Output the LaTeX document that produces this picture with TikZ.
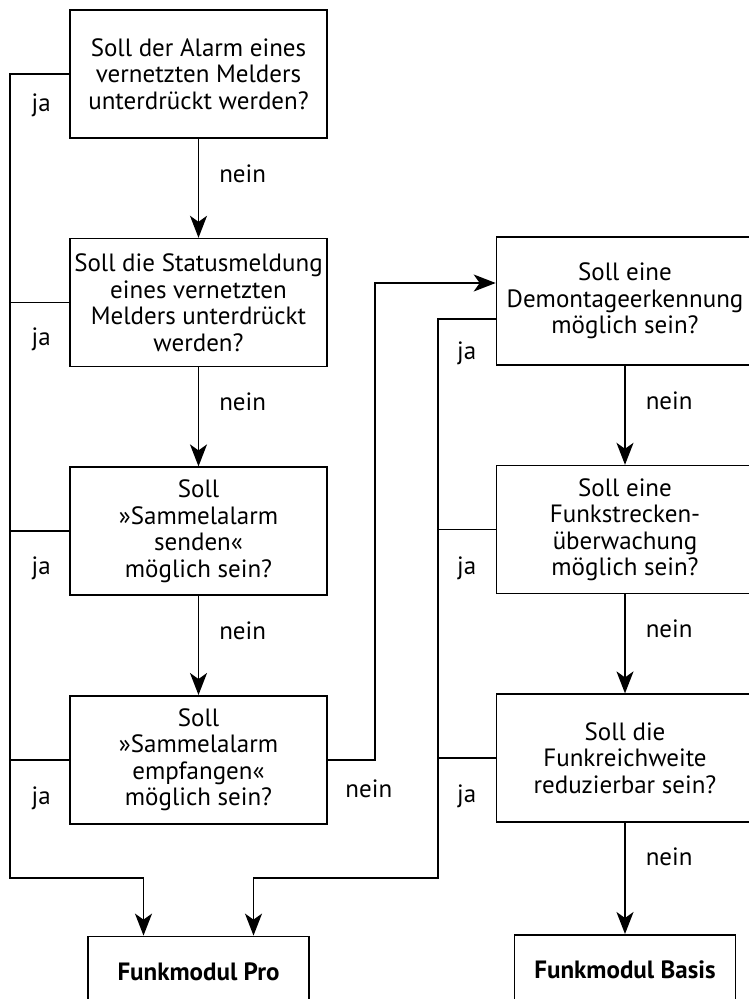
\documentclass[tikz,border=0pt]{standalone}
\usepackage{fontspec}
\setmainfont{PT Sans}
\usetikzlibrary{arrows.meta, positioning, calc}

\begin{document}
\begin{tikzpicture}[
    x=1pt, y=-1pt,
    node distance=99pt,
    frage/.style={draw, line width=1.6pt, minimum width=257pt, minimum height=128pt, inner sep=2pt, align=center, font=\fontsize{25}{26.5}\selectfont},
    ziel/.style={draw, line width=1.6pt, minimum width=221pt, minimum height=70pt, font=\fontsize{25}{26.5}\selectfont\bfseries},
    pfeil/.style={-{Stealth[length=22pt, width=17pt, inset=6pt]}, line width=1.6pt},
    linie/.style={line width=1.6pt},
    lbl/.style={font=\fontsize{25}{26.5}\selectfont, inner sep=0pt}
]
    \useasboundingbox (0,0) rectangle (749,999);

    % linke Spalte
    \node[frage] (alarm) at (198.5,74) {Soll der Alarm eines\\vernetzten Melders\\unterdrückt werden?};
    \node[frage, below=of alarm] (status) {Soll die Statusmeldung\\eines vernetzten\\Melders unterdrückt\\werden?};
    \node[frage, below=of status] (senden) {Soll\\»Sammelalarm\\senden«\\möglich sein?};
    \node[frage, below=of senden] (empfangen) {Soll\\»Sammelalarm\\empfangen«\\möglich sein?};
    \node[ziel, below=111pt of empfangen] (pro) {Funkmodul Pro};

    % rechte Spalte
    \node[frage] (demontage) at (625,301) {Soll eine\\Demontageerkennung\\möglich sein?};
    \node[frage, below=of demontage] (funkstrecke) {Soll eine\\Funkstrecken-\\überwachung\\möglich sein?};
    \node[frage, below=of funkstrecke] (reichweite) {Soll die\\Funkreichweite\\reduzierbar sein?};
    \node[ziel, below=111pt of reichweite] (basis) {Funkmodul Basis};

    % Hilfspunkte
    \coordinate (links) at (10,878);
    \coordinate (mitte) at (438,878);
    \coordinate (knick) at (375,283);

    % nein
    \draw[pfeil] (alarm) -- node[lbl, pos=0.35, right=20pt] (n1) {nein} (status);
    \draw[pfeil] (status) -- node[lbl, pos=0.35, right=20pt] (n2) {nein} (senden);
    \draw[pfeil] (senden) -- node[lbl, pos=0.35, right=20pt] (n3) {nein} (empfangen);
    \draw[pfeil] (demontage) -- node[lbl, pos=0.35, right=20pt] (n5) {nein} (funkstrecke);
    \draw[pfeil] (funkstrecke) -- node[lbl, pos=0.35, right=20pt] (n6) {nein} (reichweite);
    \draw[pfeil] (reichweite) -- node[lbl, pos=0.3, right=20pt] (n7) {nein} (basis);
    \draw[pfeil] (empfangen.east) -| (knick) -- ($(demontage.west)+(0,-18)$);
    \node[lbl] (n4) at ($(empfangen.east)+(41,29)$) {nein};

    % ja
    \draw[pfeil] (alarm.west) -| (links) -| ($(pro.north)+(-55,0)$);
    \draw[linie] (status.west) -- (status.west -| links);
    \draw[linie] (senden.west) -- (senden.west -| links);
    \draw[linie] (empfangen.west) -- (empfangen.west -| links);
    \draw[pfeil] ($(demontage.west)+(0,18)$) -| (mitte) -| ($(pro.north)+(55,0)$);
    \draw[linie] (funkstrecke.west) -- (funkstrecke.west -| mitte);
    \draw[linie] (reichweite.west) -- (reichweite.west -| mitte);

    \node[lbl] (j1) at ($(alarm.west)+(-28,31)$) {ja};
    \node[lbl] (j2) at ($(status.west)+(-28,37)$) {ja};
    \node[lbl] (j3) at ($(senden.west)+(-28,37)$) {ja};
    \node[lbl] (j4) at ($(empfangen.west)+(-28,38)$) {ja};
    \node[lbl] (j5) at ($(demontage.west)+(-29,52)$) {ja};
    \node[lbl] (j6) at ($(funkstrecke.west)+(-29,39)$) {ja};
    \node[lbl] (j7) at ($(reichweite.west)+(-29,38)$) {ja};
\end{tikzpicture}
\end{document}
